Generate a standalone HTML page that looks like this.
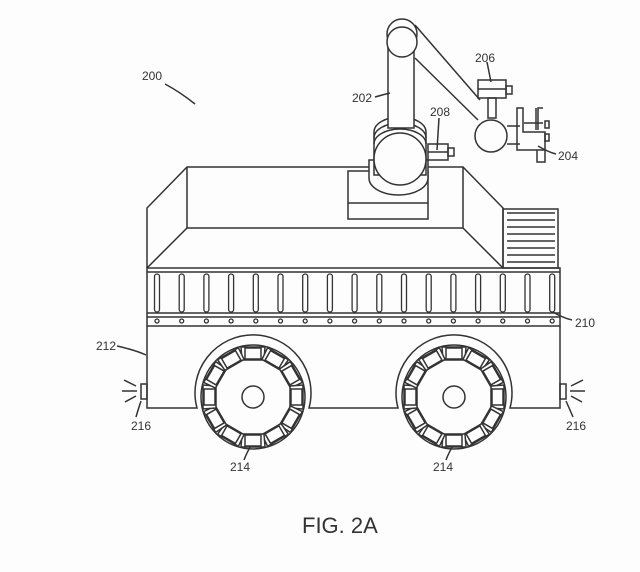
<!DOCTYPE html>
<html><head><style>
html,body{margin:0;padding:0;background:#fdfdfd;}
svg{display:block;}
text{font-family:"Liberation Sans",sans-serif;fill:#333;}
</style></head><body>
<svg width="640" height="572" viewBox="0 0 640 572" xmlns="http://www.w3.org/2000/svg">
<defs>
<g id="wheel" fill="none" stroke="#333" stroke-width="1.5">
  <circle r="52"/>
  <circle r="11"/>
  <g id="rl"><path d="M-12,-50 L12,-50 L11,-37 L-11,-37 Z" fill="#fdfdfd"/><rect x="-8" y="-49" width="16" height="11"/></g>
  <use href="#rl" transform="rotate(30)"/><use href="#rl" transform="rotate(60)"/><use href="#rl" transform="rotate(90)"/>
  <use href="#rl" transform="rotate(120)"/><use href="#rl" transform="rotate(150)"/><use href="#rl" transform="rotate(180)"/>
  <use href="#rl" transform="rotate(210)"/><use href="#rl" transform="rotate(240)"/><use href="#rl" transform="rotate(270)"/>
  <use href="#rl" transform="rotate(300)"/><use href="#rl" transform="rotate(330)"/>
</g>
</defs>
<g fill="none" stroke="#333" stroke-width="1.5">
<!-- top box -->
<path d="M147,268 L147,208 L187,167 L463,167 L503,208 L503,268"/>
<path d="M187,167 L187,228 L463,228 L463,167"/>
<path d="M147,268 L187,228 M503,268 L463,228"/>
<!-- stairs -->
<rect x="503" y="209" width="55" height="59"/>
<path d="M507,213 H555 M507,220 H555 M507,227 H555 M507,234 H555 M507,241 H555 M507,248 H555 M507,255 H555 M507,262 H555"/>
<!-- rails -->
<rect x="147" y="268" width="413" height="58"/>
<path d="M147,272 H560 M147,313 H560 M147,317 H560"/>
<!-- lower body -->
<path d="M147,326 V408 H197 A58,58 0 1 1 309,408 H398 A58,58 0 1 1 510,408 H560 V326"/>
<!-- lights -->
<rect x="141" y="384" width="6" height="15"/>
<rect x="560" y="384" width="6" height="15"/>
<path d="M137,391 H122 M136,386 L124,380 M136,396 L125,402 M570,391 H585 M571,386 L583,380 M571,396 L582,402"/>
<!-- arm base -->
<rect x="348" y="171" width="80" height="48" fill="#fdfdfd"/>
<path d="M348,203 H428"/>
<path d="M369,160 V178 A29.5,17 0 0 0 428,178 V160 Z" fill="#fdfdfd"/>
<path d="M374,175 V132 A26,15 0 0 1 426,132 V175 Z" fill="#fdfdfd"/>
<path d="M374,138 A26,15 0 0 1 426,138 M374,144 A26,15 0 0 1 426,144"/>
<circle cx="400" cy="159" r="26" fill="#fdfdfd"/>
<rect x="428" y="144" width="20" height="16" fill="#fdfdfd"/>
<path d="M428,152 H448"/>
<rect x="448" y="148" width="6" height="8"/>
<!-- vertical arm -->
<path d="M415,25 L480,100 M415,58 L478,120"/>
<rect x="388" y="45" width="26" height="83" fill="#fdfdfd"/>
<circle cx="402" cy="34" r="15" fill="#fdfdfd"/>
<circle cx="402" cy="42" r="15" fill="#fdfdfd"/>
<!-- wrist -->
<rect x="478" y="80" width="28" height="18" fill="#fdfdfd"/>
<path d="M478,89 H506"/>
<rect x="506" y="86" width="6" height="8"/>
<rect x="488" y="98" width="8" height="20"/>
<circle cx="491" cy="136" r="16" fill="#fdfdfd"/>
<path d="M507,126 H520 M507,144 H520"/>
<path d="M517,108 V150 H545 V132 H523 V108 Z"/>
<path d="M524,123 H543 M536,108 V130 M543,108 H538 V130 M537,150 V162 H545 V150"/>
<rect x="545" y="121" width="4" height="7"/><rect x="545" y="134" width="4" height="7"/>
<!-- leader lines -->
<path d="M165,84 Q180,92 195,104"/>
<path d="M375,97 Q382,95 390,93"/>
<path d="M439,118 L437,150"/>
<path d="M487,62 L491,82"/>
<path d="M538,146 Q548,152 556,154"/>
<path d="M551,311 Q563,318 572,320"/>
<path d="M117,346 Q135,350 146,355"/>
<path d="M141,401 Q138,410 136,417 M566,401 Q570,410 573,417"/>
<path d="M252,444 Q247,452 244,460 M454,444 Q449,452 446,460"/>
</g>
<g fill="none" stroke="#333" stroke-width="1.5">
<use href="#wheel" x="253" y="397"/>
<use href="#wheel" x="454" y="397"/>
</g>
<g fill="#fdfdfd" stroke="#333" stroke-width="1.3">
<rect x="154.5" y="274" width="5" height="38" rx="2.5"/><rect x="179.2" y="274" width="5" height="38" rx="2.5"/><rect x="203.9" y="274" width="5" height="38" rx="2.5"/><rect x="228.6" y="274" width="5" height="38" rx="2.5"/><rect x="253.3" y="274" width="5" height="38" rx="2.5"/><rect x="278" y="274" width="5" height="38" rx="2.5"/><rect x="302.7" y="274" width="5" height="38" rx="2.5"/><rect x="327.4" y="274" width="5" height="38" rx="2.5"/><rect x="352.1" y="274" width="5" height="38" rx="2.5"/><rect x="376.8" y="274" width="5" height="38" rx="2.5"/><rect x="401.5" y="274" width="5" height="38" rx="2.5"/><rect x="426.2" y="274" width="5" height="38" rx="2.5"/><rect x="450.9" y="274" width="5" height="38" rx="2.5"/><rect x="475.6" y="274" width="5" height="38" rx="2.5"/><rect x="500.3" y="274" width="5" height="38" rx="2.5"/><rect x="525" y="274" width="5" height="38" rx="2.5"/><rect x="549.7" y="274" width="5" height="38" rx="2.5"/>
<circle cx="157" cy="321" r="2"/><circle cx="181.7" cy="321" r="2"/><circle cx="206.4" cy="321" r="2"/><circle cx="231.1" cy="321" r="2"/><circle cx="255.8" cy="321" r="2"/><circle cx="280.5" cy="321" r="2"/><circle cx="305.2" cy="321" r="2"/><circle cx="329.9" cy="321" r="2"/><circle cx="354.6" cy="321" r="2"/><circle cx="379.3" cy="321" r="2"/><circle cx="404" cy="321" r="2"/><circle cx="428.7" cy="321" r="2"/><circle cx="453.4" cy="321" r="2"/><circle cx="478.1" cy="321" r="2"/><circle cx="502.8" cy="321" r="2"/><circle cx="527.5" cy="321" r="2"/><circle cx="552.2" cy="321" r="2"/>
</g>
<g font-size="12">
<text x="142" y="80">200</text>
<text x="352" y="102">202</text>
<text x="430" y="116">208</text>
<text x="475" y="62">206</text>
<text x="558" y="160">204</text>
<text x="575" y="327">210</text>
<text x="96" y="350">212</text>
<text x="131" y="430">216</text>
<text x="566" y="430">216</text>
<text x="230" y="471">214</text>
<text x="433" y="471">214</text>
</g>
<text x="302" y="533" font-size="22">FIG. 2A</text>
</svg>
</body></html>
